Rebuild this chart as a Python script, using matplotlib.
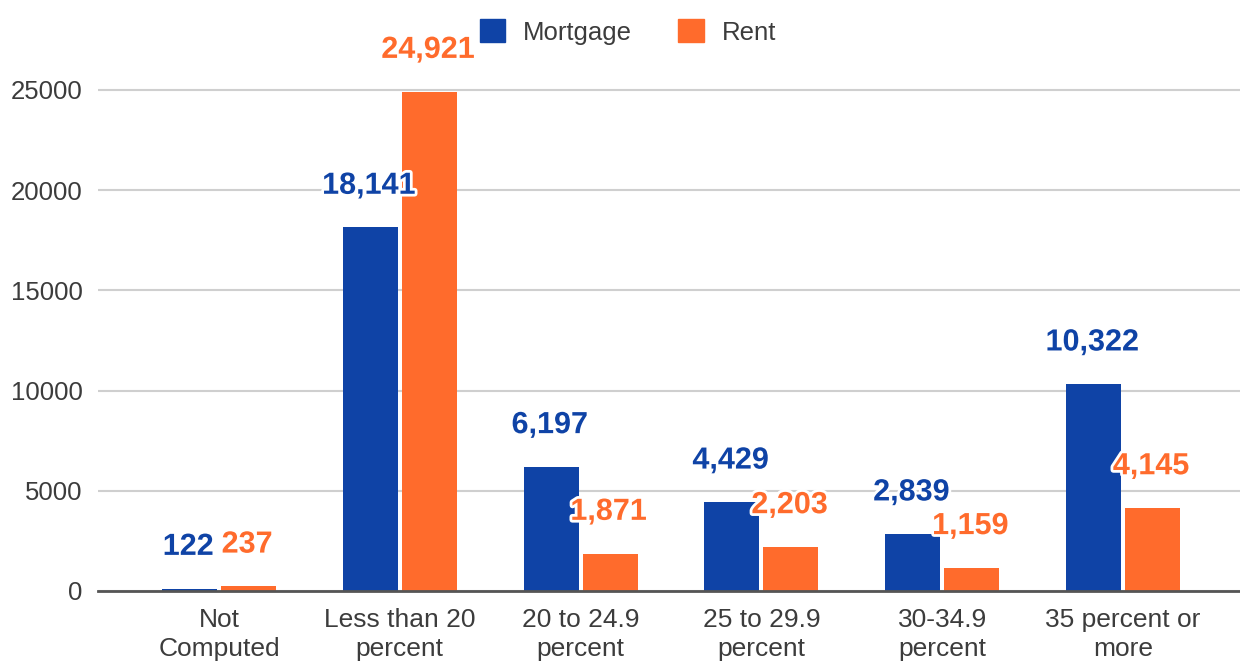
import numpy as np
import matplotlib as mpl
mpl.use('Agg')
from matplotlib import pyplot as plt
import matplotlib.patheffects as pe
from matplotlib.patches import Patch

#------------------ data ----------------------
categories = ['Not\nComputed', 'Less than 20\npercent', '20 to 24.9\npercent',
              '25 to 29.9\npercent', '30-34.9\npercent', '35 percent or\nmore']
mortgage = [122, 18141, 6197, 4429, 2839, 10322]
rent = [237, 24921, 1871, 2203, 1159, 4145]
yticks = [0, 5000, 10000, 15000, 20000, 25000]

blue = '#0f43a6'
orange = '#ff6b2c'
txt = '#3c3c3c'

plt.rcParams['font.family'] = ['Liberation Sans', 'DejaVu Sans']

#------------------ plot ----------------------
fig = plt.figure(figsize=(12.4, 6.65), dpi=100)
ax = fig.add_axes([98/1240, 74/665, 1142/1240, 591/665])

x = np.arange(len(categories))
w = 0.304
off = 0.163
b1 = ax.bar(x - off, mortgage, w, color=blue, zorder=3)
b2 = ax.bar(x + off, rent, w, color=orange, zorder=3)

stroke = [pe.withStroke(linewidth=4, foreground='white')]
for bars, vals, col in ((b1, mortgage, blue), (b2, rent, orange)):
    for b, v in zip(bars, vals):
        ax.annotate(f'{v:,}', (b.get_x() + b.get_width()/2, v),
                    xytext=(-1, 30), textcoords='offset points',
                    ha='center', va='center', fontsize=22, fontweight='bold',
                    color=col, path_effects=stroke, zorder=5)

ax.set_xlim(-0.669, 5.647)
ax.set_ylim(0, 29490)
ax.set_yticks(yticks)
ax.set_yticklabels([str(t) for t in yticks], fontsize=18.5, color=txt)
ax.set_xticks(x)
ax.set_xticklabels(categories, fontsize=19, color=txt, linespacing=1.3)
ax.tick_params(axis='both', length=0)
ax.tick_params(axis='y', pad=11)
ax.tick_params(axis='x', pad=12)
ax.grid(axis='y', color='#cfcfcf', linewidth=1.5, zorder=0)
for s in ['top', 'right', 'left']:
    ax.spines[s].set_visible(False)
ax.spines['bottom'].set_color('#555555')
ax.spines['bottom'].set_linewidth(2)
ax.spines['bottom'].set_zorder(4)

handles = [Patch(color=blue, label='Mortgage'), Patch(color=orange, label='Rent')]
fig.legend(handles=handles, loc='center', bbox_to_anchor=(628/1240, 1 - 32/665),
           ncol=2, frameon=False, fontsize=18.5, handlelength=1.0, handleheight=1.0,
           handletextpad=0.7, columnspacing=1.8, labelcolor=txt)

plt.savefig('out.png', dpi=100)
